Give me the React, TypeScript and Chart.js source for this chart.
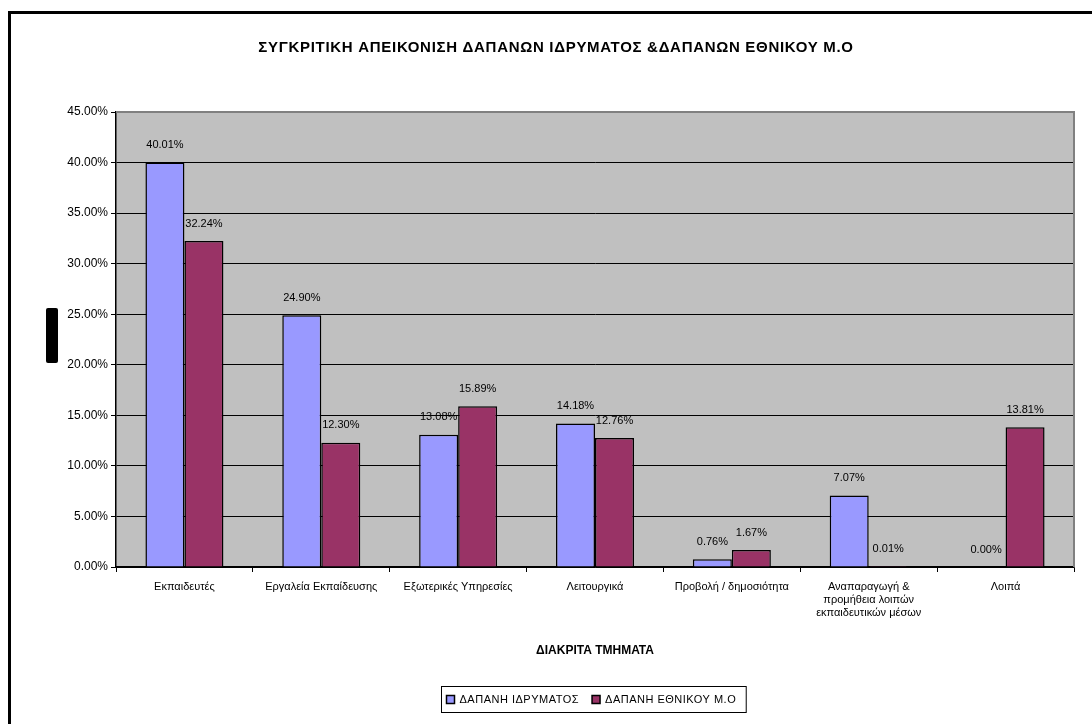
import { useEffect, useRef } from 'react';
import { Chart, registerables } from 'chart.js';

Chart.register(...registerables);

const chartTitle = 'ΣΥΓΚΡΙΤΙΚΗ ΑΠΕΙΚΟΝΙΣΗ ΔΑΠΑΝΩΝ ΙΔΡΥΜΑΤΟΣ &ΔΑΠΑΝΩΝ ΕΘΝΙΚΟΥ Μ.Ο';
const xAxisTitle = 'ΔΙΑΚΡΙΤΑ ΤΜΗΜΑΤΑ';

const categories: (string | string[])[] = [
  'Εκπαιδευτές',
  'Εργαλεία Εκπαίδευσης',
  'Εξωτερικές Υπηρεσίες',
  'Λειτουργικά',
  'Προβολή / δημοσιότητα',
  ['Αναπαραγωγή &', 'προμήθεια λοιπών', 'εκπαιδευτικών μέσων'],
  'Λοιπά',
];

const seriesLabels = ['ΔΑΠΑΝΗ ΙΔΡΥΜΑΤΟΣ', 'ΔΑΠΑΝΗ ΕΘΝΙΚΟΥ Μ.Ο'];
const institutionValues = [40.01, 24.9, 13.08, 14.18, 0.76, 7.07, 0.0];
const nationalValues = [32.24, 12.3, 15.89, 12.76, 1.67, 0.01, 13.81];
const seriesColors = ['#9999FF', '#993366'];

const yMin = 0;
const yMax = 45;
const yStep = 5;

const FONT = '"Liberation Sans", Arial, sans-serif';

const decorPlugin = {
  id: 'decor',
  beforeDraw(chart: any) {
    const { ctx, chartArea: a } = chart;
    ctx.save();
    ctx.fillStyle = '#ffffff';
    ctx.fillRect(0, 0, chart.width, chart.height);
    ctx.fillStyle = '#C0C0C0';
    ctx.fillRect(a.left, a.top, a.right - a.left, a.bottom - a.top);
    ctx.restore();
  },
  beforeDatasetsDraw(chart: any) {
    const { ctx, chartArea: a } = chart;
    ctx.save();
    ctx.strokeStyle = '#808080';
    ctx.lineWidth = 2;
    ctx.beginPath();
    ctx.moveTo(a.left, a.top);
    ctx.lineTo(a.right, a.top);
    ctx.lineTo(a.right, a.bottom);
    ctx.stroke();
    ctx.restore();
  },
  afterDatasetsDraw(chart: any) {
    const { ctx } = chart;
    ctx.save();
    ctx.font = `11px ${FONT}`;
    ctx.fillStyle = '#000';
    ctx.textAlign = 'center';
    ctx.textBaseline = 'middle';
    chart.data.datasets.forEach((ds: any, i: number) => {
      const meta = chart.getDatasetMeta(i);
      meta.data.forEach((el: any, j: number) => {
        const v = ds.data[j] as number;
        ctx.fillText(v.toFixed(2) + '%', el.x, el.y - 17.5);
      });
    });
    ctx.restore();
  },
  afterDraw(chart: any) {
    const { ctx } = chart;
    ctx.save();
    // outer frame
    ctx.fillStyle = '#000';
    ctx.fillRect(8, 11, chart.width, 3);
    ctx.fillRect(8, 11, 3, chart.height);
    // title
    ctx.font = `bold 15px ${FONT}`;
    ctx.textAlign = 'center';
    ctx.textBaseline = 'middle';
    (ctx as any).letterSpacing = '0.7px';
    ctx.fillText(chartTitle, 556, 48);
    (ctx as any).letterSpacing = '0px';
    // black box where the y-axis title would be
    ctx.beginPath();
    const bx = 46, by = 308, bw = 12, bh = 55, r = 2;
    ctx.moveTo(bx + r, by);
    ctx.lineTo(bx + bw - r, by);
    ctx.quadraticCurveTo(bx + bw, by, bx + bw, by + r);
    ctx.lineTo(bx + bw, by + bh - r);
    ctx.quadraticCurveTo(bx + bw, by + bh, bx + bw - r, by + bh);
    ctx.lineTo(bx + r, by + bh);
    ctx.quadraticCurveTo(bx, by + bh, bx, by + bh - r);
    ctx.lineTo(bx, by + r);
    ctx.quadraticCurveTo(bx, by, bx + r, by);
    ctx.fill();
    // legend
    ctx.font = `11px ${FONT}`;
    (ctx as any).letterSpacing = '0.5px';
    const padL = 5, padR = 10, box = 8, gap = 5, itemGap = 13;
    const widths = chart.data.datasets.map((d: any) => ctx.measureText(d.label).width);
    let total = padL + padR;
    widths.forEach((w: number, i: number) => {
      total += box + gap + w + (i < widths.length - 1 ? itemGap : 0);
    });
    const cx = 593;
    const lx = Math.round(cx - total / 2) + 0.5;
    const ly = 686.5, lh = 26;
    ctx.strokeStyle = '#000';
    ctx.lineWidth = 1;
    ctx.strokeRect(lx, ly, total, lh);
    let x = lx + padL;
    const midY = ly + lh / 2;
    ctx.textAlign = 'left';
    chart.data.datasets.forEach((d: any, i: number) => {
      ctx.fillStyle = d.backgroundColor;
      ctx.fillRect(x, midY - box / 2, box, box);
      ctx.strokeStyle = '#000';
      ctx.lineWidth = 1.5;
      ctx.strokeRect(x, midY - box / 2, box, box);
      x += box + gap;
      ctx.fillStyle = '#000';
      ctx.fillText(d.label, x, midY);
      x += widths[i] + itemGap;
    });
    (ctx as any).letterSpacing = '0px';
    ctx.restore();
  },
};

export default function App() {
  const canvasRef = useRef<HTMLCanvasElement | null>(null);

  useEffect(() => {
    if (!canvasRef.current) return;
    Chart.defaults.font.family = FONT;
    Chart.defaults.color = '#000';
    const chart = new Chart(canvasRef.current, {
      type: 'bar',
      data: {
        labels: categories,
        datasets: [
          {
            label: seriesLabels[0],
            data: institutionValues,
            backgroundColor: seriesColors[0],
            borderColor: '#000',
            borderWidth: 1.5,
            categoryPercentage: 0.57,
            barPercentage: 1,
          },
          {
            label: seriesLabels[1],
            data: nationalValues,
            backgroundColor: seriesColors[1],
            borderColor: '#000',
            borderWidth: 1.5,
            categoryPercentage: 0.57,
            barPercentage: 1,
          },
        ],
      },
      options: {
        responsive: false,
        animation: false,
        layout: { padding: { left: 0, top: 112, right: 18, bottom: 67 } },
        plugins: {
          legend: { display: false },
          title: { display: false },
          tooltip: { enabled: false },
        },
        scales: {
          x: {
            afterFit: (scale: any) => {
              scale.height = 90;
            },
            grid: {
              drawOnChartArea: false,
              drawTicks: true,
              tickLength: 5,
              color: '#000',
              offset: true,
            },
            border: { display: true, color: '#000', width: 1.5 },
            ticks: {
              autoSkip: false,
              maxRotation: 0,
              minRotation: 0,
              padding: 8,
              color: '#000',
              font: { size: 11, lineHeight: '13px' },
            },
            title: {
              display: true,
              text: xAxisTitle,
              color: '#000',
              font: { size: 12, weight: 'bold', lineHeight: '12px' },
              padding: 0,
            },
          },
          y: {
            min: yMin,
            max: yMax,
            afterFit: (scale: any) => {
              scale.width = 116;
            },
            grid: {
              color: (ctx: any) => (ctx.tick && ctx.tick.value === yMax ? 'rgba(0,0,0,0)' : '#000'),
              tickColor: '#000',
              tickLength: 5,
              lineWidth: 1,
            },
            border: { display: true, color: '#000', width: 1.5 },
            ticks: {
              stepSize: yStep,
              padding: 3,
              color: '#000',
              font: { size: 12 },
              callback: (v: any) => Number(v).toFixed(2) + '%',
            },
          },
        },
      },
      plugins: [decorPlugin],
    });
    return () => chart.destroy();
  }, []);

  return (
    <div style={{ position: 'absolute', left: 0, top: 0, width: 1092, height: 724, background: '#fff' }}>
      <canvas ref={canvasRef} width={1092} height={724} style={{ display: 'block' }} />
    </div>
  );
}
